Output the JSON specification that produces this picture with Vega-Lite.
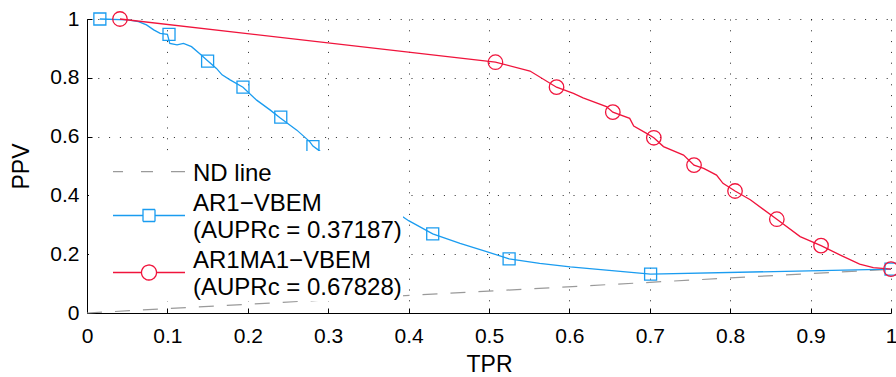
{
  "$schema": "https://vega.github.io/schema/vega-lite/v6.json",
  "autosize": "none",
  "width": 804,
  "height": 294,
  "padding": {"left": 87, "top": 19, "right": 5, "bottom": 64},
  "background": "white",
  "config": {
    "view": {"stroke": null},
    "font": "Liberation Sans",
    "axis": {
      "domainColor": "black", "domainWidth": 1,
      "tickColor": "black", "tickSize": -5, "tickWidth": 1,
      "labelFont": "Liberation Sans", "labelFontSize": 21, "labelColor": "black",
      "titleFont": "Liberation Sans", "titleFontSize": 23, "titleFontWeight": "normal", "titleColor": "black",
      "grid": true, "gridColor": "black", "gridDash": [1, 9.8], "gridOpacity": 0.85, "gridWidth": 1,
      "labelFlush": false, "labelOverlap": false
    }
  },
  "datasets": {
    "curves": [
      {"series": "ND line", "tpr": 0, "ppv": 0},
      {"series": "ND line", "tpr": 1, "ppv": 0.149},
      {"series": "AR1−VBEM", "tpr": 0.016, "ppv": 1.0},
      {"series": "AR1−VBEM", "tpr": 0.051, "ppv": 0.997},
      {"series": "AR1−VBEM", "tpr": 0.064, "ppv": 0.991},
      {"series": "AR1−VBEM", "tpr": 0.074, "ppv": 0.98},
      {"series": "AR1−VBEM", "tpr": 0.083, "ppv": 0.963},
      {"series": "AR1−VBEM", "tpr": 0.091, "ppv": 0.951},
      {"series": "AR1−VBEM", "tpr": 0.1, "ppv": 0.948},
      {"series": "AR1−VBEM", "tpr": 0.103, "ppv": 0.917},
      {"series": "AR1−VBEM", "tpr": 0.112, "ppv": 0.912},
      {"series": "AR1−VBEM", "tpr": 0.12, "ppv": 0.917},
      {"series": "AR1−VBEM", "tpr": 0.13, "ppv": 0.906},
      {"series": "AR1−VBEM", "tpr": 0.141, "ppv": 0.88},
      {"series": "AR1−VBEM", "tpr": 0.15, "ppv": 0.858},
      {"series": "AR1−VBEM", "tpr": 0.161, "ppv": 0.832},
      {"series": "AR1−VBEM", "tpr": 0.168, "ppv": 0.81},
      {"series": "AR1−VBEM", "tpr": 0.178, "ppv": 0.793},
      {"series": "AR1−VBEM", "tpr": 0.194, "ppv": 0.768},
      {"series": "AR1−VBEM", "tpr": 0.211, "ppv": 0.724},
      {"series": "AR1−VBEM", "tpr": 0.228, "ppv": 0.69},
      {"series": "AR1−VBEM", "tpr": 0.24, "ppv": 0.664},
      {"series": "AR1−VBEM", "tpr": 0.261, "ppv": 0.622},
      {"series": "AR1−VBEM", "tpr": 0.277, "ppv": 0.583},
      {"series": "AR1−VBEM", "tpr": 0.281, "ppv": 0.568},
      {"series": "AR1−VBEM", "tpr": 0.288, "ppv": 0.554},
      {"series": "AR1−VBEM", "tpr": 0.33, "ppv": 0.46},
      {"series": "AR1−VBEM", "tpr": 0.37, "ppv": 0.37},
      {"series": "AR1−VBEM", "tpr": 0.4, "ppv": 0.314},
      {"series": "AR1−VBEM", "tpr": 0.43, "ppv": 0.269},
      {"series": "AR1−VBEM", "tpr": 0.464, "ppv": 0.237},
      {"series": "AR1−VBEM", "tpr": 0.497, "ppv": 0.209},
      {"series": "AR1−VBEM", "tpr": 0.525, "ppv": 0.184},
      {"series": "AR1−VBEM", "tpr": 0.563, "ppv": 0.169},
      {"series": "AR1−VBEM", "tpr": 0.601, "ppv": 0.157},
      {"series": "AR1−VBEM", "tpr": 0.646, "ppv": 0.146},
      {"series": "AR1−VBEM", "tpr": 0.701, "ppv": 0.132},
      {"series": "AR1−VBEM", "tpr": 0.854, "ppv": 0.141},
      {"series": "AR1−VBEM", "tpr": 1.0, "ppv": 0.149},
      {"series": "AR1MA1−VBEM", "tpr": 0.041, "ppv": 1.0},
      {"series": "AR1MA1−VBEM", "tpr": 0.508, "ppv": 0.853},
      {"series": "AR1MA1−VBEM", "tpr": 0.551, "ppv": 0.823},
      {"series": "AR1MA1−VBEM", "tpr": 0.584, "ppv": 0.768},
      {"series": "AR1MA1−VBEM", "tpr": 0.605, "ppv": 0.747},
      {"series": "AR1MA1−VBEM", "tpr": 0.617, "ppv": 0.732},
      {"series": "AR1MA1−VBEM", "tpr": 0.646, "ppv": 0.702},
      {"series": "AR1MA1−VBEM", "tpr": 0.654, "ppv": 0.683},
      {"series": "AR1MA1−VBEM", "tpr": 0.675, "ppv": 0.662},
      {"series": "AR1MA1−VBEM", "tpr": 0.68, "ppv": 0.636},
      {"series": "AR1MA1−VBEM", "tpr": 0.696, "ppv": 0.611},
      {"series": "AR1MA1−VBEM", "tpr": 0.705, "ppv": 0.596},
      {"series": "AR1MA1−VBEM", "tpr": 0.717, "ppv": 0.566},
      {"series": "AR1MA1−VBEM", "tpr": 0.742, "ppv": 0.537},
      {"series": "AR1MA1−VBEM", "tpr": 0.755, "ppv": 0.503},
      {"series": "AR1MA1−VBEM", "tpr": 0.767, "ppv": 0.492},
      {"series": "AR1MA1−VBEM", "tpr": 0.783, "ppv": 0.469},
      {"series": "AR1MA1−VBEM", "tpr": 0.791, "ppv": 0.441},
      {"series": "AR1MA1−VBEM", "tpr": 0.806, "ppv": 0.415},
      {"series": "AR1MA1−VBEM", "tpr": 0.825, "ppv": 0.385},
      {"series": "AR1MA1−VBEM", "tpr": 0.858, "ppv": 0.319},
      {"series": "AR1MA1−VBEM", "tpr": 0.887, "ppv": 0.26},
      {"series": "AR1MA1−VBEM", "tpr": 0.913, "ppv": 0.229},
      {"series": "AR1MA1−VBEM", "tpr": 0.937, "ppv": 0.197},
      {"series": "AR1MA1−VBEM", "tpr": 0.961, "ppv": 0.166},
      {"series": "AR1MA1−VBEM", "tpr": 0.978, "ppv": 0.154},
      {"series": "AR1MA1−VBEM", "tpr": 1.0, "ppv": 0.149}
    ],
    "markers": [
      {"series": "AR1−VBEM", "tpr": 0.016, "ppv": 1.0},
      {"series": "AR1−VBEM", "tpr": 0.102, "ppv": 0.948},
      {"series": "AR1−VBEM", "tpr": 0.15, "ppv": 0.857},
      {"series": "AR1−VBEM", "tpr": 0.194, "ppv": 0.768},
      {"series": "AR1−VBEM", "tpr": 0.241, "ppv": 0.666},
      {"series": "AR1−VBEM", "tpr": 0.281, "ppv": 0.566},
      {"series": "AR1−VBEM", "tpr": 0.43, "ppv": 0.269},
      {"series": "AR1−VBEM", "tpr": 0.525, "ppv": 0.184},
      {"series": "AR1−VBEM", "tpr": 0.701, "ppv": 0.132},
      {"series": "AR1−VBEM", "tpr": 1.0, "ppv": 0.149},
      {"series": "AR1MA1−VBEM", "tpr": 0.041, "ppv": 1.0},
      {"series": "AR1MA1−VBEM", "tpr": 0.508, "ppv": 0.853},
      {"series": "AR1MA1−VBEM", "tpr": 0.584, "ppv": 0.768},
      {"series": "AR1MA1−VBEM", "tpr": 0.654, "ppv": 0.683},
      {"series": "AR1MA1−VBEM", "tpr": 0.705, "ppv": 0.596},
      {"series": "AR1MA1−VBEM", "tpr": 0.755, "ppv": 0.503},
      {"series": "AR1MA1−VBEM", "tpr": 0.806, "ppv": 0.415},
      {"series": "AR1MA1−VBEM", "tpr": 0.858, "ppv": 0.319},
      {"series": "AR1MA1−VBEM", "tpr": 0.913, "ppv": 0.229},
      {"series": "AR1MA1−VBEM", "tpr": 1.0, "ppv": 0.149}
    ]
  },
  "encoding": {
    "x": {
      "field": "tpr", "type": "quantitative", "title": "TPR",
      "scale": {"domain": [0, 1], "nice": false, "zero": false},
      "axis": {"values": [0, 0.1, 0.2, 0.3, 0.4, 0.5, 0.6, 0.7, 0.8, 0.9, 1], "format": "~g", "labelPadding": 17, "titlePadding": 7}
    },
    "y": {
      "field": "ppv", "type": "quantitative", "title": "PPV",
      "scale": {"domain": [0, 1], "nice": false, "zero": false},
      "axis": {"values": [0, 0.2, 0.4, 0.6, 0.8, 1], "format": "~g", "labelPadding": 13, "titlePadding": 16}
    },
    "color": {
      "field": "series", "type": "nominal",
      "scale": {"domain": ["ND line", "AR1−VBEM", "AR1MA1−VBEM"], "range": ["#9a9a9a", "#1a9cf0", "#f0143c"]},
      "legend": {
        "orient": "none", "legendX": 2, "legendY": 132,
        "title": " ",
        "titleFontSize": 5,
        "titlePadding": 5,
        "fillColor": "white",
        "strokeColor": null,
        "padding": 1,
        "rowPadding": 6,
        "symbolSize": 144,
        "symbolOffset": 47,
        "labelOffset": 32,
        "labelFont": "Liberation Sans",
        "labelFontSize": 24,
        "labelColor": "black",
        "labelLimit": 400,
        "symbolStrokeWidth": 1.3,
        "labelExpr": "datum.value === 'AR1−VBEM' ? ['AR1−VBEM', '(AUPRc = 0.37187)'] : datum.value === 'AR1MA1−VBEM' ? ['AR1MA1−VBEM', '(AUPRc = 0.67828)'] : datum.label",
        "encode": {
          "symbols": {
            "update": {
              "shape": {"signal": "datum.value === 'ND line' ? 'M-6,-0.4H-4.33M-1.33,-0.4H0.67M3.67,-0.4H6' : datum.value === 'AR1−VBEM' ? 'M-6,1.92H-1M1,1.92H6M-1,0.92H1V2.92H-1Z' : 'M-6,1.92H-1.25M1.25,1.92H6M-1.25,1.92A1.25,1.25,0,1,0,1.25,1.92A1.25,1.25,0,1,0,-1.25,1.92Z'"},
              "fill": {"value": "transparent"},
              "stroke": {"scale": "color", "field": "value"},
              "strokeWidth": {"value": 1.3},
              "strokeDash": {"value": [1, 0]}
            }
          },
          "labels": {"update": {"lineHeight": {"value": 27}}}
        }
      }
    }
  },
  "layer": [
    {
      "data": {"name": "curves"},
      "transform": [{"filter": "datum.series === 'ND line'"}],
      "mark": {"type": "line", "strokeDash": [15, 13], "strokeWidth": 1.2}
    },
    {
      "data": {"name": "curves"},
      "transform": [{"filter": "datum.series !== 'ND line'"}],
      "mark": {"type": "line", "strokeWidth": 1.3}
    },
    {
      "data": {"name": "markers"},
      "mark": {"type": "point", "filled": false, "strokeWidth": 1.3, "opacity": 1},
      "encoding": {
        "shape": {"field": "series", "type": "nominal", "scale": {"domain": ["AR1−VBEM", "AR1MA1−VBEM"], "range": ["square", "circle"]}, "legend": null},
        "size": {"field": "series", "type": "nominal", "scale": {"domain": ["AR1−VBEM", "AR1MA1−VBEM"], "range": [144, 210]}, "legend": null}
      }
    }
  ]
}
